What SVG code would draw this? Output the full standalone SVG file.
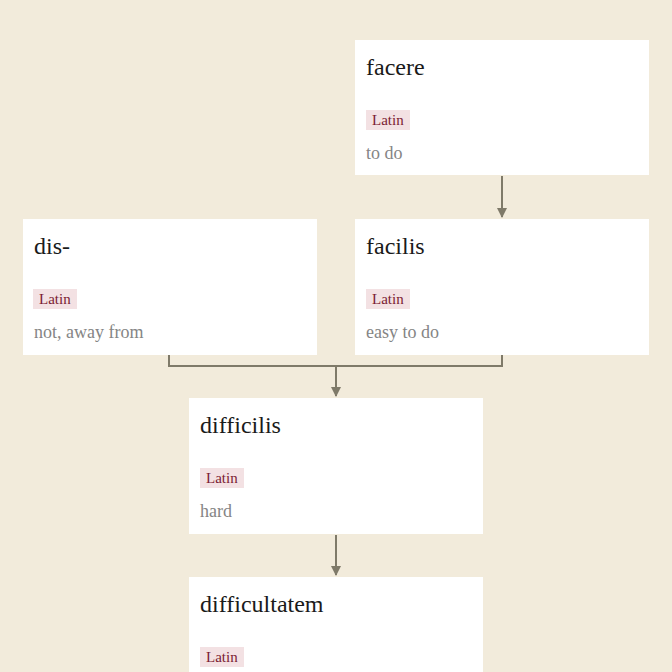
<svg xmlns="http://www.w3.org/2000/svg" width="672" height="672" viewBox="0 0 672 672">
<defs>
<style>
.box{fill:#ffffff}
.title{font-family:"Liberation Serif","Times New Roman",serif;font-size:24px;fill:#1a1a1a}
.tag{fill:#f3e1e3}
.tagt{font-family:"Liberation Serif","Times New Roman",serif;font-size:15px;fill:#7b1c33}
.gloss{font-family:"Liberation Serif","Times New Roman",serif;font-size:18px;fill:#858585}
.conn{fill:none;stroke:#7f7a69;stroke-width:2}
</style>
<marker id="arr" viewBox="0 0 10 10" refX="9" refY="5" markerWidth="5" markerHeight="5" orient="auto" markerUnits="strokeWidth">
<path d="M0,0 L10,5 L0,10 z" fill="#7f7a69"/>
</marker>
</defs>
<rect x="0" y="0" width="672" height="672" fill="#f2ebdb"/>
<g id="connectors">
<path class="conn" d="M502,176 L502,217" marker-end="url(#arr)"/>
<path class="conn" d="M169,355 L169,366 L502,366 L502,355"/>
<path class="conn" d="M336,366 L336,396" marker-end="url(#arr)"/>
<path class="conn" d="M336,535 L336,575" marker-end="url(#arr)"/>
</g>
<g id="node-facere">
<rect class="box" x="355" y="40" width="294" height="135"/>
<text class="title" x="366" y="75">facere</text>
<rect class="tag" x="366" y="110" width="44" height="20"/>
<text class="tagt" x="372" y="125">Latin</text>
<text class="gloss" x="366" y="159">to do</text>
</g>
<g id="node-dis">
<rect class="box" x="23" y="219" width="294" height="136"/>
<text class="title" x="34" y="254">dis-</text>
<rect class="tag" x="33" y="289" width="44" height="20"/>
<text class="tagt" x="39" y="304">Latin</text>
<text class="gloss" x="34" y="338">not, away from</text>
</g>
<g id="node-facilis">
<rect class="box" x="355" y="219" width="294" height="136"/>
<text class="title" x="366" y="254">facilis</text>
<rect class="tag" x="366" y="289" width="44" height="20"/>
<text class="tagt" x="372" y="304">Latin</text>
<text class="gloss" x="366" y="338">easy to do</text>
</g>
<g id="node-difficilis">
<rect class="box" x="189" y="398" width="294" height="136"/>
<text class="title" x="200" y="433">difficilis</text>
<rect class="tag" x="200" y="468" width="44" height="20"/>
<text class="tagt" x="206" y="483">Latin</text>
<text class="gloss" x="200" y="517">hard</text>
</g>
<g id="node-difficultatem">
<rect class="box" x="189" y="577" width="294" height="136"/>
<text class="title" x="200" y="612">difficultatem</text>
<rect class="tag" x="200" y="647" width="44" height="20"/>
<text class="tagt" x="206" y="662">Latin</text>
</g>
</svg>
